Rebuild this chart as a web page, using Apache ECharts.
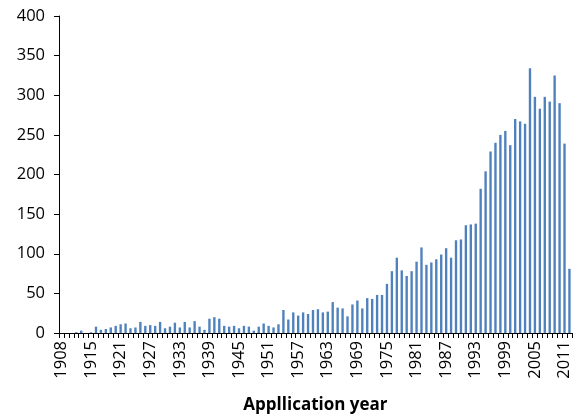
<!DOCTYPE html>
<html>
<head>
<meta charset="utf-8">
<script src="https://cdn.jsdelivr.net/npm/echarts@6/dist/echarts.min.js"></script>
<style>
  html, body { margin: 0; padding: 0; background: #fff; }
  #chart { width: 573px; height: 419px; }
</style>
</head>
<body>
<div id="chart"></div>
<script>
// application years (1910 is absent from the source data)
const years = [];
for (let y = 1908; y <= 2012; y++) {
  if (y !== 1910) years.push(String(y));
}

// number of applications per year
const counts = [
  0, 0, 0, 1, 3, 0, 1, 8, 4, 5,
  7, 9, 11, 12, 6, 7, 14, 9, 10, 9,
  14, 6, 8, 13, 7, 14, 7, 15, 8, 4,
  18, 20, 18, 9, 8, 9, 6, 9, 8, 3,
  8, 12, 9, 7, 11, 29, 17, 26, 22, 26,
  24, 29, 30, 26, 27, 39, 32, 31, 21, 36,
  41, 31, 44, 43, 48, 48, 62, 78, 95, 79,
  72, 78, 90, 108, 86, 89, 93, 99, 107, 95,
  117, 118, 136, 137, 138, 182, 204, 229, 240, 250,
  255, 237, 270, 267, 264, 334, 298, 283, 298, 292,
  325, 290, 239, 81
];

const yTicks = { min: 0, max: 400, interval: 50 };

const chart = echarts.init(document.getElementById('chart'));
const font = '"Open Sans", "Liberation Sans", sans-serif';

chart.setOption({
  animation: false,
  grid: { left: 59, right: 0, top: 16, bottom: 85 },
  xAxis: {
    type: 'category',
    data: years,
    name: 'Appllication year',
    nameLocation: 'middle',
    nameGap: 64,
    nameTextStyle: { fontFamily: font, fontSize: 17, fontWeight: 'bold', color: '#000' },
    axisLine: { lineStyle: { color: '#000', width: 1 } },
    axisTick: { show: true, interval: 0, length: 5, lineStyle: { color: '#000' } },
    axisLabel: {
      interval: 5,
      rotate: 90,
      margin: 8,
      fontFamily: font,
      fontSize: 16.5,
      color: '#000'
    },
    splitLine: { show: false }
  },
  yAxis: {
    type: 'value',
    min: yTicks.min,
    max: yTicks.max,
    interval: yTicks.interval,
    axisLine: { show: true, lineStyle: { color: '#000', width: 1 } },
    axisTick: { show: true, length: 5, lineStyle: { color: '#000' } },
    axisLabel: { margin: 14, fontFamily: font, fontSize: 16.5, color: '#000' },
    splitLine: { show: false }
  },
  series: [
    {
      type: 'bar',
      data: counts,
      barWidth: '48%',
      itemStyle: { color: '#4F81BD' }
    }
  ]
});
</script>
</body>
</html>
